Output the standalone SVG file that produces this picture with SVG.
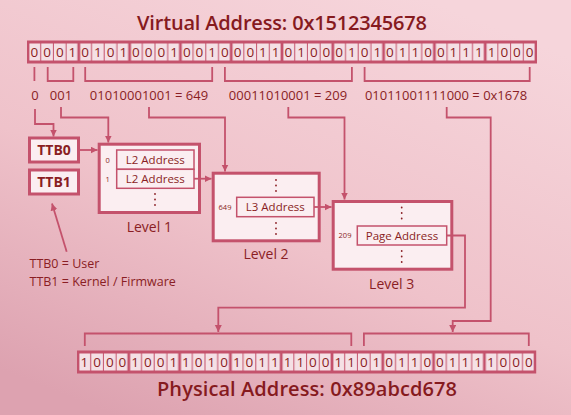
<svg xmlns="http://www.w3.org/2000/svg" width="571" height="415" viewBox="0 0 571 415">
<defs>
<linearGradient id="bg" x1="0.75" y1="0" x2="0.2" y2="1">
<stop offset="0" stop-color="#f6d5db"/>
<stop offset="0.55" stop-color="#efc2ca"/>
<stop offset="1" stop-color="#dda2b0"/>
</linearGradient>
<pattern id="bits" patternUnits="userSpaceOnUse" x="0" y="0" width="50.8" height="21">
<rect x="0" y="0" width="50.8" height="21" fill="#c4526c"/>
<rect x="1.4" y="2" width="48" height="17" fill="#f5e0e5"/>
<path d="M12.7 2V19M25.4 2V19M38.1 2V19" stroke="#c4526c" stroke-width="1"/>
</pattern>
<marker id="ah" markerUnits="userSpaceOnUse" markerWidth="8" markerHeight="8" refX="7" refY="3.5" orient="auto">
<path d="M0 0L7 3.5L0 7z" fill="#c4526c"/>
</marker>
</defs>
<style>
text{font-family:"Open Sans","Noto Sans","Liberation Sans",sans-serif;fill:#8a1e24;font-weight:500}
.title{font-size:20px;font-weight:600;text-anchor:middle;fill:#861a1e}
.bit{font-size:13.5px;text-anchor:middle}
.lbl{font-size:13px;text-anchor:middle}
.box{fill:#fbeef1;stroke:#c4526c;stroke-width:3}
.ent{fill:#fbeef1;stroke:#c4526c;stroke-width:1.5}
.et{font-size:11.5px;text-anchor:middle}
.idx{font-size:7.5px;text-anchor:middle}
.lv{font-size:14px;text-anchor:middle}
.ttb{font-size:14px;font-weight:700;text-anchor:middle}
.leg{font-size:12.5px}
.ln{fill:none;stroke:#c4526c;stroke-width:1.8}
.dot{fill:#8a1e24}
</style>
<rect width="571" height="415" fill="url(#bg)"/>

<g id="virtual-address">
<text class="title" x="282" y="29.5" textLength="290">Virtual Address: 0x1512345678</text>
<g transform="translate(28,41.5)">
<rect x="0" y="0" width="508" height="21" fill="url(#bits)"/>
<rect x="0" y="0" width="508" height="21" fill="none" stroke="#c4526c" stroke-width="2"/>
</g>
<text class="bit" y="56.9" x="34.35 47.05 59.75 72.45 85.15 97.85 110.55 123.25 135.95 148.65 161.35 174.05 186.75 199.45 212.15 224.85 237.55 250.25 262.95 275.65 288.35 301.05 313.75 326.45 339.15 351.85 364.55 377.25 389.95 402.65 415.35 428.05 440.75 453.45 466.15 478.85 491.55 504.25 516.95 529.65">0001010100010010001101000101011001111000</text>
</g>

<g id="virtual-fields">
<text class="lbl" x="35" y="100">0</text>
<text class="lbl" x="61" y="100">001</text>
<text class="lbl" x="149" y="100">01010001001 = 649</text>
<text class="lbl" x="288" y="100">00011010001 = 209</text>
<text class="lbl" x="446" y="100">01011001111000 = 0x1678</text>
</g>

<g id="ttb0">
<rect class="box" x="29.5" y="138" width="49" height="24"/>
<text class="ttb" x="54" y="155">TTB0</text>
</g>
<g id="ttb1">
<rect class="box" x="29.5" y="170" width="49" height="24"/>
<text class="ttb" x="54" y="187">TTB1</text>
</g>

<g id="level1">
<rect class="box" x="99.2" y="144.2" width="100.3" height="68.3"/>
<rect class="ent" x="116.7" y="150" width="77.3" height="19.3"/>
<rect class="ent" x="116.7" y="169.3" width="77.3" height="19"/>
<text class="idx" x="107.7" y="162.8">0</text>
<text class="idx" x="107.7" y="181.8">1</text>
<text class="et" x="155.3" y="163.8">L2 Address</text>
<text class="et" x="155.3" y="183">L2 Address</text>
<circle class="dot" cx="155" cy="194" r="0.9"/><circle class="dot" cx="155" cy="199.5" r="0.9"/><circle class="dot" cx="155" cy="205" r="0.9"/>
<text class="lv" x="149.3" y="231.5">Level 1</text>
</g>

<g id="level2">
<rect class="box" x="213.2" y="173.2" width="106" height="67.6"/>
<rect class="ent" x="236.7" y="197.3" width="77.3" height="19.4"/>
<text class="idx" x="225" y="209.7">649</text>
<text class="et" x="275.3" y="211.2">L3 Address</text>
<circle class="dot" cx="276" cy="180" r="0.9"/><circle class="dot" cx="276" cy="185.5" r="0.9"/><circle class="dot" cx="276" cy="191" r="0.9"/>
<circle class="dot" cx="276" cy="223" r="0.9"/><circle class="dot" cx="276" cy="228.5" r="0.9"/><circle class="dot" cx="276" cy="234" r="0.9"/>
<text class="lv" x="266" y="259">Level 2</text>
</g>

<g id="level3">
<rect class="box" x="333.2" y="201.5" width="118.6" height="67.7"/>
<rect class="ent" x="357.3" y="226" width="89.4" height="19"/>
<text class="idx" x="345" y="238.2">209</text>
<text class="et" x="402" y="239.7">Page Address</text>
<circle class="dot" cx="401.7" cy="207.5" r="0.9"/><circle class="dot" cx="401.7" cy="213" r="0.9"/><circle class="dot" cx="401.7" cy="218.5" r="0.9"/>
<circle class="dot" cx="401.7" cy="251" r="0.9"/><circle class="dot" cx="401.7" cy="256.5" r="0.9"/><circle class="dot" cx="401.7" cy="262" r="0.9"/>
<text class="lv" x="391.7" y="289">Level 3</text>
</g>

<g id="ttb-legend">
<text class="leg" x="29.5" y="268">TTB0 = User</text>
<text class="leg" x="29.5" y="285.5">TTB1 = Kernel / Firmware</text>
</g>

<g id="physical-address">
<g transform="translate(78,351.5)">
<rect x="0" y="0" width="457.2" height="21" fill="url(#bits)"/>
<rect x="0" y="0" width="457.2" height="21" fill="none" stroke="#c4526c" stroke-width="2"/>
</g>
<text class="bit" y="366.9" x="84.35 97.05 109.75 122.45 135.15 147.85 160.55 173.25 185.95 198.65 211.35 224.05 236.75 249.45 262.15 274.85 287.55 300.25 312.95 325.65 338.35 351.05 363.75 376.45 389.15 401.85 414.55 427.25 439.95 452.65 465.35 478.05 490.75 503.45 516.15 528.85">100010011010101111001101011001111000</text>
<text class="title" x="307" y="396" textLength="300">Physical Address: 0x89abcd678</text>
</g>

<g id="connectors">
<path class="ln" d="M34.4 67V81"/>
<path class="ln" d="M47.7 67V81H73.3V67"/>
<path class="ln" d="M85.2 67V81H212.2V67"/>
<path class="ln" d="M224.9 67V81H351.9V67"/>
<path class="ln" d="M364.6 67V81H529.7V67"/>
<path class="ln" d="M84.8 346V333.5H351.3V346"/>
<path class="ln" d="M363.9 346V333.5H528.8V346"/>
<path class="ln" marker-end="url(#ah)" d="M35 109V124H53.5V136.5"/>
<path class="ln" marker-end="url(#ah)" d="M61 107V117.5H108.3V142.5"/>
<path class="ln" marker-end="url(#ah)" d="M149 107V117.5H225V171.5"/>
<path class="ln" marker-end="url(#ah)" d="M288.3 107V117.5H344.5V199.5"/>
<path class="ln" marker-end="url(#ah)" d="M446.7 107V117.5H490.7V321H452.7V332"/>
<path class="ln" marker-end="url(#ah)" d="M446.7 235.5H465V307.7H218.3V332"/>
<path class="ln" marker-end="url(#ah)" d="M80 150H97.5"/>
<path class="ln" marker-end="url(#ah)" d="M194 178.7H211.5"/>
<path class="ln" marker-end="url(#ah)" d="M314 207H331.5"/>
<path class="ln" marker-end="url(#ah)" d="M66.7 251.7L52 203.5"/>
</g>
</svg>
